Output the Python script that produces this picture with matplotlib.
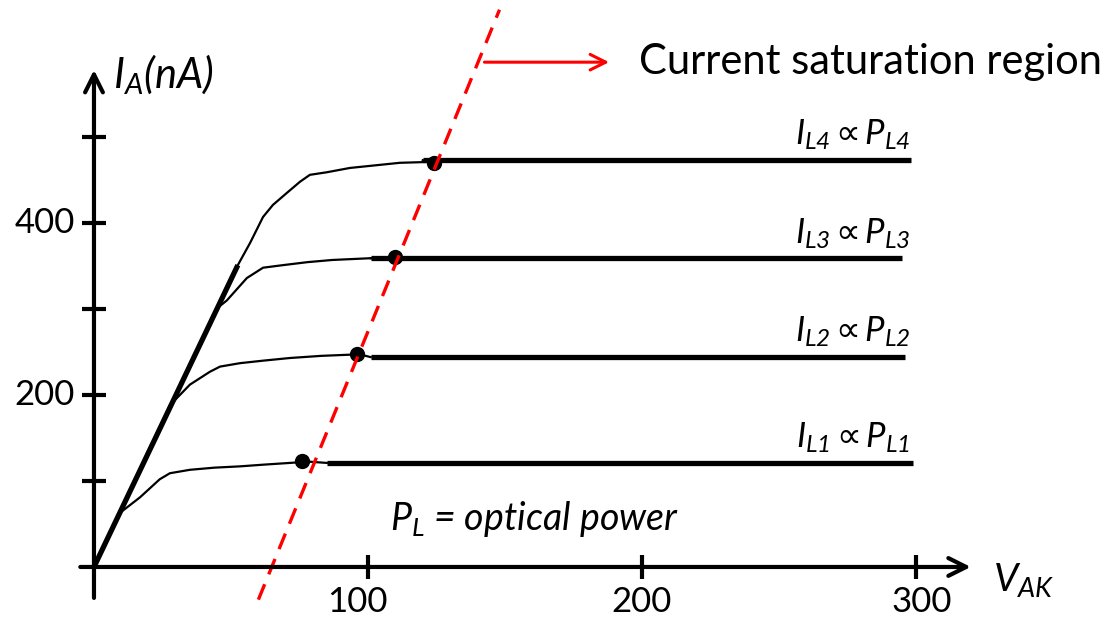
import numpy as np
import matplotlib.pyplot as plt

plt.rcParams['font.family'] = ['Lato', 'DejaVu Sans']
plt.rcParams['mathtext.fontset'] = 'custom'
plt.rcParams['mathtext.it'] = 'Lato:italic'
plt.rcParams['mathtext.rm'] = 'Lato:italic'
plt.rcParams['mathtext.bf'] = 'DejaVu Sans'
plt.rcParams['mathtext.fallback'] = 'stixsans'

# knee curves (V_AK, I_A)
c1_v = [0, 9.5, 16.8, 24, 27.7, 35, 44, 53.3, 62, 71.5, 76]
c1_i = [0, 63, 81, 102, 109, 113, 115.5, 117, 119, 121, 122]
c2_v = [0, 27.7, 35, 42.3, 46, 53.3, 62, 71.5, 83, 94.5]
c2_i = [0, 188, 212, 227, 233, 237, 240, 243, 245.5, 247]
c3_v = [0, 45, 48.5, 55.8, 61.7, 69, 78, 87, 100.7, 110]
c3_i = [0, 301, 310, 336, 348, 351, 354.5, 357, 359, 360]
c4_v = [0, 52.5, 57, 61.7, 65.3, 70.4, 75.2, 78.8, 85, 93.4, 111.7, 122.6]
c4_i = [0, 351, 377, 407, 421, 435, 448, 456, 459, 464, 470, 471]

# saturation plateaus
sat_start = [85, 101, 101, 120]
sat_end = [299, 296, 295, 298]
sat_level = [121, 244, 359, 473]
dot_v = [76, 96, 110, 124]
dot_i = [123, 248, 360, 470]
labels = ['1', '2', '3', '4']

# linear region and saturation boundary
lin_v = [0, 52.5]
lin_i = [0, 351]
bound_v = [60, 148]
bound_i = [-38, 648]

xticks = [100, 200, 300]
xtick_shift = [-4, 0, 2]
yticks = [100, 200, 300, 400, 500]
ytick_labels = {200: '200', 400: '400'}

fig = plt.figure(figsize=(11.13, 6.19), dpi=100)
ax = fig.add_axes([0, 0, 1, 1])
ax.set_xlim(-34.3, 371.9)
ax.set_ylim(-60.5, 659.3)
ax.axis('off')

# axes with arrows
ax.annotate('', xy=(0, 578), xytext=(0, -36),
            arrowprops=dict(arrowstyle='->', lw=3, color='black', mutation_scale=32,
                            shrinkA=0, shrinkB=0))
ax.annotate('', xy=(320, 0), xytext=(-5, 0),
            arrowprops=dict(arrowstyle='->', lw=3, color='black', mutation_scale=32,
                            shrinkA=0, shrinkB=0))
ax.plot(xticks, [0] * len(xticks), ls='none', marker='|', ms=17, mew=3, color='black')
ax.plot([0] * len(yticks), yticks, ls='none', marker='_', ms=17, mew=3, color='black')
for t, d in zip(xticks, xtick_shift):
    ax.text(t + d, -22, str(t), ha='center', va='top', fontsize=25)
for t, s in ytick_labels.items():
    ax.text(-7, t, s, ha='right', va='center', fontsize=25)

ax.text(7, 572, r'$I_A(nA)$', fontsize=30, va='center', ha='left')
ax.text(328, -15, r'$V_{AK}$', fontsize=28, va='center', ha='left')

# curves
for v, i in [(c1_v, c1_i), (c2_v, c2_i), (c3_v, c3_i), (c4_v, c4_i)]:
    ax.plot(v, i, color='black', lw=1.6, solid_capstyle='round', solid_joinstyle='round')
for k in range(4):
    ax.plot([dot_v[k], sat_start[k]], [dot_i[k], sat_level[k]], color='black', lw=1.6)
    ax.plot([sat_start[k], sat_end[k]], [sat_level[k], sat_level[k]],
            color='black', lw=3.8, solid_capstyle='butt')
    ax.text(298, sat_level[k] + 9, r'$I_{L%s}\,\mathbf{∝}\,P_{L%s}$' % (labels[k], labels[k]),
            ha='right', va='bottom', fontsize=25)
ax.plot(lin_v, lin_i, color='black', lw=3.8, solid_capstyle='butt')
ax.plot(dot_v, dot_i, ls='none', marker='o', ms=10, color='black')

ax.plot(bound_v, bound_i, color='red', lw=2.4, ls=(0, (5, 3.2)))
ax.annotate('', xy=(188, 587), xytext=(142.5, 587),
            arrowprops=dict(arrowstyle='->', lw=2.2, color='red', mutation_scale=28,
                            shrinkA=0, shrinkB=0))
ax.text(199, 587, 'Current saturation region', fontsize=30, va='center', ha='left')
ax.text(108, 56, r'$P_L$ = $optical\ power$', fontsize=27, va='center', ha='left',
        style='italic')

fig.savefig('out.png', dpi=100)
